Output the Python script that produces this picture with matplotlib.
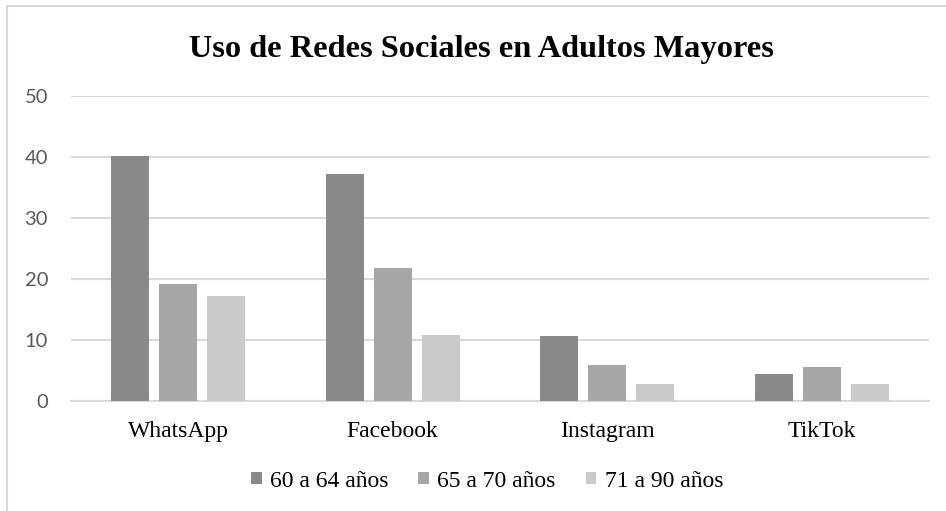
import numpy as np
import matplotlib.pyplot as plt
from matplotlib.patches import Rectangle

# Datos
redes = ['WhatsApp', 'Facebook', 'Instagram', 'TikTok']
grupos = ['60 a 64 años', '65 a 70 años', '71 a 90 años']
edad_60_64 = [40.2, 37.3, 10.6, 4.5]
edad_65_70 = [19.2, 21.9, 6.0, 5.6]
edad_71_90 = [17.3, 10.9, 2.8, 2.8]
colores = ['#898989', '#a6a6a6', '#cacaca']

fig = plt.figure(figsize=(9.46, 5.11), dpi=100)
ax = fig.add_axes([0.075, 0.215, 0.907, 0.597])

x = np.arange(len(redes))
ancho = 0.177
paso = 0.224
for k, (vals, nom) in enumerate(zip([edad_60_64, edad_65_70, edad_71_90], grupos)):
    ax.bar(x + (k - 1) * paso, vals, ancho, color=colores[k], label=nom, zorder=3)

ax.set_xlim(-0.5, 3.5)
ax.set_ylim(0, 50)
ax.set_yticks([0, 10, 20, 30, 40, 50])
ax.grid(axis='y', color='#d9d9d9', linewidth=1.5, zorder=0)
for s in ['top', 'right', 'left']:
    ax.spines[s].set_visible(False)
ax.spines['bottom'].set_color('#d9d9d9')
ax.spines['bottom'].set_linewidth(1.5)
ax.tick_params(axis='both', length=0)
ax.tick_params(axis='y', pad=16.5)
ax.tick_params(axis='x', pad=14)
ax.set_xticks(x)
ax.set_xticklabels(redes, family='Liberation Serif', fontsize=17, color='black')
for t in ax.get_yticklabels():
    t.set_family('Lato')
    t.set_fontsize(14.5)
    t.set_color('#595959')

fig.text(481 / 946, 1 - 57 / 511, 'Uso de Redes Sociales en Adultos Mayores',
         ha='center', va='baseline', family='Liberation Serif', fontweight='bold',
         fontsize=23.3)

fig.legend(loc='center', bbox_to_anchor=(487 / 946, 1 - 481 / 511), ncol=3,
           frameon=False, prop={'family': 'Liberation Serif', 'size': 17},
           handlelength=0.45, handleheight=0.45, handletextpad=0.35,
           columnspacing=1.27)

# marco del grafico
fig.patches.append(Rectangle((7 / 946, -0.1), 1.2, 1.1 - 6 / 511,
                             transform=fig.transFigure, fill=False,
                             edgecolor='#d9d9d9', linewidth=1.5))

fig.savefig('out.png', dpi=100)
